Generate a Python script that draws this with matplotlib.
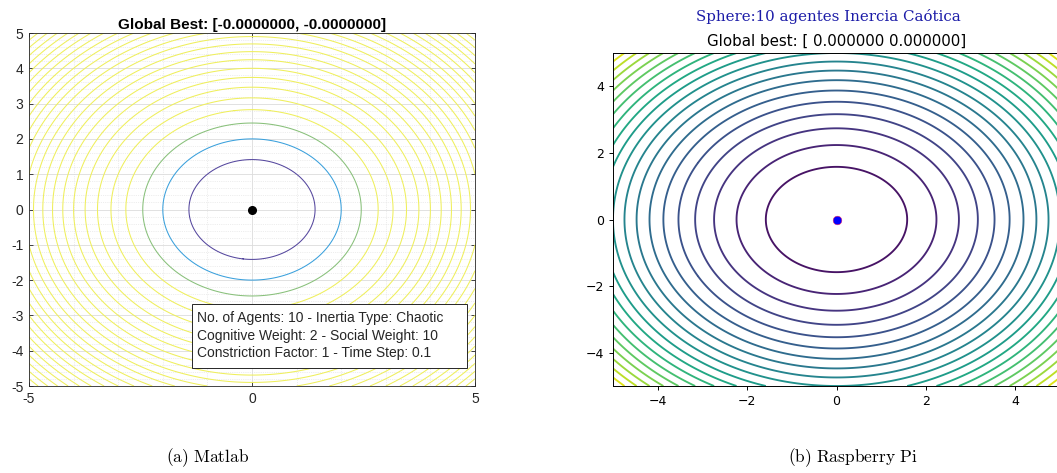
import numpy as np
import matplotlib
matplotlib.use("Agg")
import matplotlib.pyplot as plt
from matplotlib.patches import Rectangle
from matplotlib.ticker import MultipleLocator

# sphere function grid, shared by both panels
grid_pts = np.linspace(-5, 5, 301)
X, Y = np.meshgrid(grid_pts, grid_pts)
Z = X ** 2 + Y ** 2

# left (Matlab) panel
matlab_levels = [2, 4, 6, 8, 10, 12, 14, 16, 18, 20, 22, 24, 26, 28, 30,
                 32, 34, 36, 38, 40, 42, 44, 46, 48]
matlab_colors = ['#55479e', '#3aa0dc', '#88c07a'] + ['#efef5c'] * 21
matlab_best = [0.0, 0.0]
matlab_xticks = [-5, 0, 5]
matlab_yticks = [-5, -4, -3, -2, -1, 0, 1, 2, 3, 4, 5]
matlab_title = "Global Best: [-0.0000000, -0.0000000]"
matlab_info = ["No. of Agents: 10 - Inertia Type: Chaotic",
               "Cognitive Weight: 2 - Social Weight: 10",
               "Constriction Factor: 1 - Time Step: 0.1"]

# right (Raspberry Pi) panel
pi_levels = [0, 2.5, 5, 7.5, 10, 12.5, 15, 17.5, 20, 22.5, 25, 27.5, 30,
             32.5, 35, 37.5, 40, 42.5, 45, 47.5, 50]
pi_best = [0.0, 0.0]
pi_ticks = [-4, -2, 0, 2, 4]
pi_suptitle = "Sphere:10 agentes Inercia Caótica"
pi_title = "Global best: [ 0.000000 0.000000]"

captions = ["(a) Matlab", "(b) Raspberry Pi"]

W, H = 1057, 473
fig = plt.figure(figsize=(W / 100, H / 100), dpi=100)
fig.patch.set_facecolor('white')


def px_box(x0, x1, ytop, ybot):
    return [x0 / W, 1 - ybot / H, (x1 - x0) / W, (ybot - ytop) / H]


# ---- left panel, MATLAB look ----
ax1 = fig.add_axes(px_box(29, 475, 33, 386))
sans = 'Liberation Sans'
ax1.contour(X, Y, Z, levels=matlab_levels, colors=matlab_colors, linewidths=0.75, zorder=2)
ax1.plot(matlab_best[0], matlab_best[1], 'o', color='black', markersize=5.5, zorder=5)
ax1.set_xlim(-5, 5)
ax1.set_ylim(-5, 5)
ax1.set_xticks(matlab_xticks)
ax1.set_yticks(matlab_yticks)
ax1.set_xticklabels([str(t) for t in matlab_xticks], fontfamily=sans, fontsize=10, color='#262626')
ax1.set_yticklabels([str(t) for t in matlab_yticks], fontfamily=sans, fontsize=10, color='#262626')
ax1.xaxis.set_minor_locator(MultipleLocator(1))
ax1.yaxis.set_minor_locator(MultipleLocator(0.2))
ax1.tick_params(which='major', direction='in', length=3, width=0.6, color='#262626',
                top=True, right=True, pad=4)
ax1.tick_params(which='minor', length=0)
ax1.grid(True, which='major', color='#dcdcdc', linewidth=0.6, zorder=0)
ax1.grid(True, which='minor', color='#dedede', linewidth=0.5, linestyle=':', zorder=0)
ax1.set_axisbelow(True)
for s in ax1.spines.values():
    s.set_color('#262626')
    s.set_linewidth(0.6)
ax1.set_title(matlab_title, fontfamily=sans, fontweight='bold', fontsize=11, pad=3, color='#000000')

# info box
fig.patches.append(Rectangle((192 / W, 1 - 368 / H), (467 - 192) / W, (368 - 304) / H,
                             transform=fig.transFigure, facecolor='white',
                             edgecolor='#262626', linewidth=0.7, zorder=10))
for i, line in enumerate(matlab_info):
    fig.text(197 / W, 1 - (318 + 17.6 * i) / H, line, fontfamily=sans, fontsize=10,
             color='#262626', va='center', ha='left', zorder=11)

# ---- right panel, matplotlib default look ----
ax2 = fig.add_axes(px_box(613, 1060, 53, 386))
ax2.contour(X, Y, Z, levels=pi_levels, cmap='viridis', linewidths=1.35)
ax2.plot(pi_best[0], pi_best[1], 'o', color='blue', markeredgecolor='#e0206a',
         markeredgewidth=0.4, markersize=6.2, zorder=5)
ax2.set_xlim(-5, 5)
ax2.set_ylim(-5, 5)
ax2.set_xticks(pi_ticks)
ax2.set_yticks(pi_ticks)
ax2.tick_params(labelsize=9, length=3.2, width=0.7, pad=3)
for s in ax2.spines.values():
    s.set_linewidth(0.7)
ax2.set_title(pi_title, fontsize=10.8, pad=5.4)
fig.text(828.5 / W, 1 - 16.7 / H, pi_suptitle, ha='center', va='center',
         fontfamily='serif', fontsize=10.8, color='#1c1ca8')

# ---- subfigure captions ----
plt.rcParams['mathtext.fontset'] = 'cm'
cap_x = [208, 853]
for cx, cap in zip(cap_x, captions):
    fig.text(cx / W, 1 - 458 / H, r'$\mathrm{' + cap.replace(' ', r'\ ') + '}$',
             ha='center', va='center', fontsize=12.5)

fig.savefig('out.png', dpi=100, facecolor='white')
